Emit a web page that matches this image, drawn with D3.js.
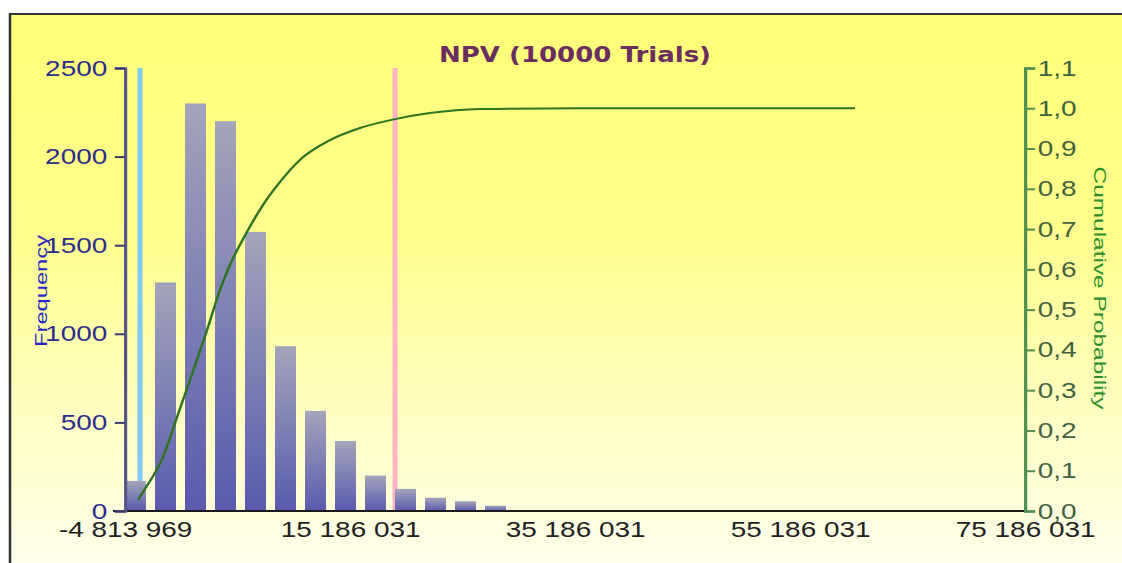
<!DOCTYPE html>
<html>
<head>
<meta charset="utf-8">
<script src="https://cdn.jsdelivr.net/npm/d3@7"></script>
<style>
  html, body { margin: 0; padding: 0; background: #fff; }
  svg { display: block; }
</style>
</head>
<body>
<script>
// histogram: left edge of each bin and its count
const binStarts = [-4813969, -2147302, 519364, 3186031, 5852698, 8519364, 11186031,
                   13852698, 16519364, 19186031, 21852698, 24519364, 27186031]
const frequencies = [170, 1290, 2300, 2200, 1575, 930, 565, 395, 200, 125, 75, 55, 30]

// cumulative probability curve
const cumValues = [-3658000, -3214000, -1436000, -192000, 964000, 2475000, 3630000, 4520000,
                   6030000, 7450000, 8960000, 10740000, 13410000, 16080000, 19190000,
                   22300000, 26740000, 35630000, 60080000]
const cumProbs = [0.027, 0.047, 0.134, 0.233, 0.325, 0.449, 0.549, 0.611,
                  0.693, 0.760, 0.817, 0.872, 0.921, 0.951, 0.973,
                  0.988, 0.998, 1.0, 1.0]

// marker lines
const lowerMark = -3480000
const upperMark = 19190000

const xTicks = [-4813969, 15186031, 35186031, 55186031, 75186031]
const freqTicks = [0, 500, 1000, 1500, 2000, 2500]
const probTicks = [0, 0.1, 0.2, 0.3, 0.4, 0.5, 0.6, 0.7, 0.8, 0.9, 1.0, 1.1]

const title = 'NPV (10000 Trials)'

// the picture is wider than it is tall in its text, so draw in a narrower space and stretch
const stretch = 1.27
const W = 1122 / stretch, H = 563
const sx = v => v / stretch

const svg = d3.select('body').append('svg')
  .attr('width', 1122)
  .attr('height', H)
  .attr('viewBox', `0 0 ${W} ${H}`)
  .attr('preserveAspectRatio', 'none')

const defs = svg.append('defs')
const bg = defs.append('linearGradient').attr('id', 'bg')
  .attr('x1', 0).attr('y1', 0).attr('x2', 0).attr('y2', 1)
bg.append('stop').attr('offset', '0%').attr('stop-color', '#ffff78')
bg.append('stop').attr('offset', '35%').attr('stop-color', '#ffff8e')
bg.append('stop').attr('offset', '65%').attr('stop-color', '#ffffc4')
bg.append('stop').attr('offset', '92%').attr('stop-color', '#fffff2')

const barGrad = defs.append('linearGradient').attr('id', 'barGrad')
  .attr('x1', 0).attr('y1', 0).attr('x2', 0).attr('y2', 1)
barGrad.append('stop').attr('offset', '0%').attr('stop-color', '#a4a4ba')
barGrad.append('stop').attr('offset', '100%').attr('stop-color', '#5a5aae')

svg.append('rect')
  .attr('x', sx(10)).attr('y', 14)
  .attr('width', W).attr('height', 620)
  .attr('fill', 'url(#bg)')
  .attr('stroke', '#333')
  .attr('stroke-width', 2)

const x = d3.scaleLinear().domain([-4813969, 75186031]).range([sx(125), sx(1025)])
const yFreq = d3.scaleLinear().domain([0, 2500]).range([511, 68])
const yProb = d3.scaleLinear().domain([0, 1.1]).range([511, 68])

const locale = d3.formatLocale({ decimal: ',', thousands: ' ', grouping: [3], currency: ['', ''], minus: '-' })
const fmtX = locale.format(',d')
const fmtProb = locale.format('.1f')

const font = '"Liberation Sans", Arial, sans-serif'

// marker lines (behind bars)
svg.selectAll('.mark')
  .data([{ v: lowerMark, c: '#7fc9f2' }, { v: upperMark, c: '#ffb3c3' }])
  .enter().append('line')
  .attr('x1', d => x(d.v)).attr('x2', d => x(d.v))
  .attr('y1', yFreq(2500)).attr('y2', yFreq(0))
  .attr('stroke', d => d.c)
  .attr('stroke-width', 4)

// bars
const bins = binStarts.map((s, i) => ({ start: s, count: frequencies[i] }))
const binWidth = binStarts[1] - binStarts[0]
svg.selectAll('.bar')
  .data(bins).enter().append('rect')
  .attr('x', d => x(d.start))
  .attr('y', d => yFreq(d.count))
  .attr('width', d => (x(d.start + binWidth) - x(d.start)) * 0.7)
  .attr('height', d => yFreq(0) - yFreq(d.count))
  .attr('fill', 'url(#barGrad)')

// bottom axis
const xAxis = svg.append('g')
  .attr('transform', `translate(0, ${yFreq(0)})`)
  .call(d3.axisBottom(x).tickValues(xTicks).tickFormat(fmtX).tickSize(0).tickPadding(10))
xAxis.select('.domain').remove()
xAxis.selectAll('text').attr('font-family', font).attr('font-size', 22).attr('fill', '#222')
svg.append('line')
  .attr('x1', sx(113)).attr('x2', x(75186031))
  .attr('y1', yFreq(0)).attr('y2', yFreq(0))
  .attr('stroke', '#1a1a1a').attr('stroke-width', 2)

// left axis
const leftAxis = svg.append('g')
  .attr('transform', `translate(${x(-4813969)}, 0)`)
  .call(d3.axisLeft(yFreq).tickValues(freqTicks).tickFormat(d3.format('d')).tickSize(8).tickPadding(6))
leftAxis.select('.domain').attr('stroke', '#55558a').attr('stroke-width', 2.5)
leftAxis.selectAll('line').attr('stroke', '#3a3a70').attr('stroke-width', 2)
leftAxis.selectAll('text').attr('font-family', font).attr('font-size', 22).attr('fill', '#2c2c8c')

// right axis
const rightAxis = svg.append('g')
  .attr('transform', `translate(${x(75186031)}, 0)`)
  .call(d3.axisRight(yProb).tickValues(probTicks).tickFormat(fmtProb).tickSize(8).tickPadding(2))
rightAxis.select('.domain').attr('stroke', '#4f8f4f').attr('stroke-width', 2.5)
rightAxis.selectAll('line').attr('stroke', '#4f8f4f').attr('stroke-width', 2)
rightAxis.selectAll('text').attr('font-family', font).attr('font-size', 22).attr('fill', '#3f613f')

// cumulative curve
const line = d3.line()
  .x((d, i) => x(cumValues[i]))
  .y(d => yProb(d))
  .curve(d3.curveMonotoneX)
svg.append('path')
  .attr('d', line(cumProbs))
  .attr('fill', 'none')
  .attr('stroke', '#2f7422')
  .attr('stroke-width', 2)

// titles
svg.append('text')
  .text(title)
  .attr('x', sx(575)).attr('y', 62)
  .attr('text-anchor', 'middle')
  .attr('font-family', '"DejaVu Sans", Verdana, sans-serif')
  .attr('font-weight', 'bold')
  .attr('font-size', 20.5)
  .attr('fill', '#6b2d5f')

svg.append('text')
  .text('Frequency')
  .attr('transform', `translate(${sx(41)}, 291) rotate(-90)`)
  .attr('text-anchor', 'middle')
  .attr('dominant-baseline', 'central')
  .attr('font-family', font)
  .attr('font-size', 13)
  .attr('textLength', 112)
  .attr('lengthAdjust', 'spacingAndGlyphs')
  .attr('fill', '#2626c8')

svg.append('text')
  .text('Cumulative Probability')
  .attr('transform', `translate(${sx(1100)}, 288) rotate(90)`)
  .attr('text-anchor', 'middle')
  .attr('dominant-baseline', 'central')
  .attr('font-family', font)
  .attr('font-size', 13)
  .attr('textLength', 243)
  .attr('lengthAdjust', 'spacingAndGlyphs')
  .attr('fill', '#2b8f2b')
</script>
</body>
</html>
